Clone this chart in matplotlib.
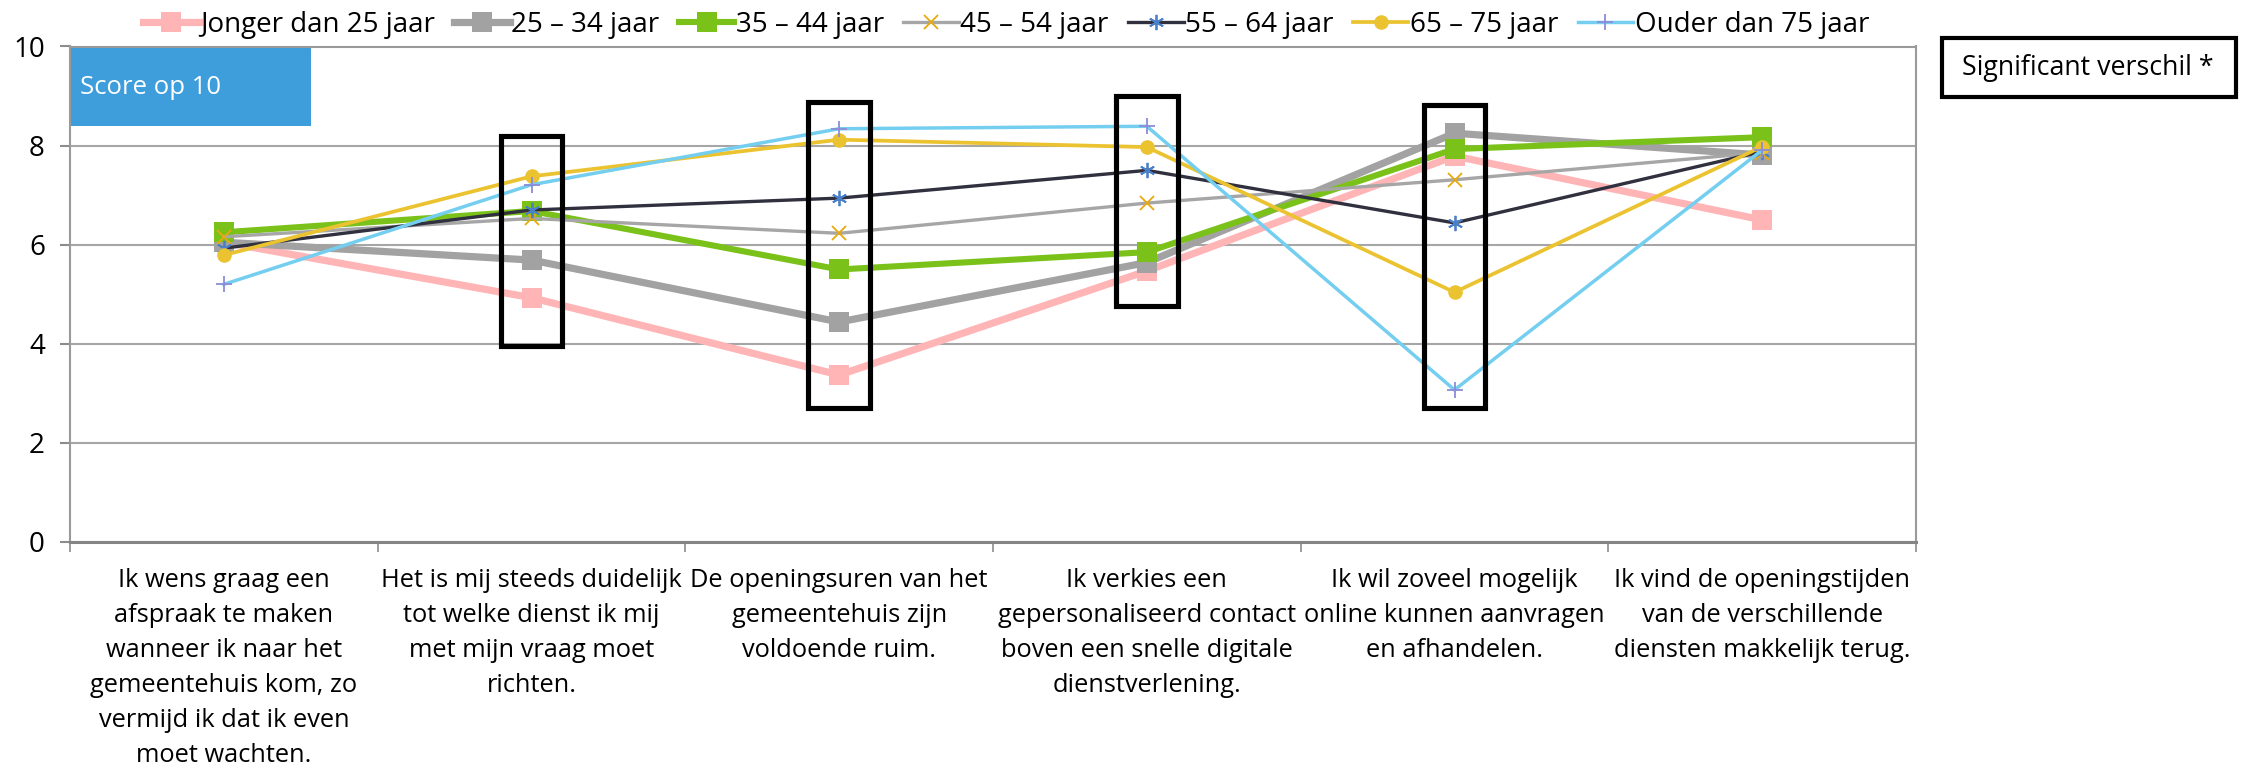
import matplotlib
matplotlib.use("Agg")
import matplotlib.pyplot as plt
from matplotlib.patches import Rectangle

plt.rcParams['font.family'] = ['Open Sans', 'DejaVu Sans']

categories = [
    "Ik wens graag een\nafspraak te maken\nwanneer ik naar het\ngemeentehuis kom, zo\nvermijd ik dat ik even\nmoet wachten.",
    "Het is mij steeds duidelijk\ntot welke dienst ik mij\nmet mijn vraag moet\nrichten.",
    "De openingsuren van het\ngemeentehuis zijn\nvoldoende ruim.",
    "Ik verkies een\ngepersonaliseerd contact\nboven een snelle digitale\ndienstverlening.",
    "Ik wil zoveel mogelijk\nonline kunnen aanvragen\nen afhandelen.",
    "Ik vind de openingstijden\nvan de verschillende\ndiensten makkelijk terug.",
]

series_names = [
    "Jonger dan 25 jaar",
    "25 – 34 jaar",
    "35 – 44 jaar",
    "45 – 54 jaar",
    "55 – 64 jaar",
    "65 – 75 jaar",
    "Ouder dan 75 jaar",
]

jonger_25 = [6.05, 4.93, 3.37, 5.47, 7.79, 6.50]
age_25_34 = [6.05, 5.69, 4.44, 5.64, 8.25, 7.81]
age_35_44 = [6.25, 6.68, 5.50, 5.85, 7.93, 8.17]
age_45_54 = [6.16, 6.53, 6.23, 6.84, 7.31, 7.86]
age_55_64 = [5.93, 6.70, 6.94, 7.50, 6.44, 7.88]
age_65_75 = [5.79, 7.38, 8.12, 7.97, 5.04, 7.98]
ouder_75 = [5.20, 7.21, 8.34, 8.39, 3.07, 7.91]

# categories marked as significantly different: (index, lower, upper)
significant = [(1, 3.96, 8.19), (2, 2.70, 8.87), (3, 4.77, 9.01), (4, 2.70, 8.82)]

styles = [
    dict(color="#FFB4B6", lw=5.2, marker="s", ms=14, mfc="#FFB4B6", mec="#FFB4B6", mew=0),
    dict(color="#A2A2A2", lw=5.2, marker="s", ms=14, mfc="#A2A2A2", mec="#A2A2A2", mew=0),
    dict(color="#7AC21A", lw=4.4, marker="s", ms=14, mfc="#7AC21A", mec="#7AC21A", mew=0),
    dict(color="#A6A6A6", lw=2.4, marker="x", ms=10, mfc="none", mec="#E8A90E", mew=1.3),
    dict(color="#30303F", lw=2.4, marker=(6, 2, 0), ms=11, mfc="none", mec="#4A80C8", mew=1.3),
    dict(color="#EBC330", lw=2.7, marker="o", ms=10.5, mfc="#EBC330", mec="#EBC330", mew=0),
    dict(color="#74CEF0", lw=2.5, marker="+", ms=12, mfc="none", mec="#8C8CD8", mew=1.3),
]

data = [jonger_25, age_25_34, age_35_44, age_45_54, age_55_64, age_65_75, ouder_75]

W, H = 2243, 769
fig = plt.figure(figsize=(W / 100, H / 100), dpi=100)
ax = fig.add_axes([70 / W, (H - 542) / H, (1916 - 70) / W, (542 - 46.5) / H])

x = list(range(len(categories)))
handles = []
for name, vals, st in zip(series_names, data, styles):
    line, = ax.plot(x, vals, label=name, solid_joinstyle="miter", zorder=3, **st)
    handles.append(line)

for idx, lo, hi in significant:
    ax.add_patch(Rectangle((idx - 0.1, lo), 0.2, hi - lo, fill=False,
                           edgecolor="black", lw=3.7, zorder=5))

ax.set_xlim(-0.5, len(categories) - 0.5)
ax.set_ylim(0, 10)
ax.set_yticks([0, 2, 4, 6, 8, 10])
ax.yaxis.grid(True, color="#A6A6A6", lw=1.5, zorder=0)
ax.set_axisbelow(True)

ax.set_xticks(x)
ax.set_xticklabels(categories, fontsize=18.3, linespacing=1.52, va="top")
ax.set_xticks([i - 0.5 for i in range(len(categories) + 1)], minor=True)
ax.tick_params(axis="x", which="major", length=0, pad=19)
ax.tick_params(axis="x", which="minor", length=7, width=1.2, color="#8C8C8C", direction="out")
ax.tick_params(axis="y", length=7, width=1.5, color="#8C8C8C", pad=11, labelsize=20)

for side in ["left", "top", "right"]:
    ax.spines[side].set_color("#9A9A9A")
    ax.spines[side].set_linewidth(1.5)
ax.spines["bottom"].set_color("#858585")
ax.spines["bottom"].set_linewidth(2.2)

# "Score op 10" label box
fig.patches.append(Rectangle((71 / W, (H - 126) / H), (311 - 71) / W, (126 - 48) / H,
                             transform=fig.transFigure, facecolor="#3E9DDB",
                             edgecolor="none", zorder=6))
fig.text(80 / W, (H - 87) / H, "Score op 10", color="white", fontsize=18.5,
         va="center", ha="left", zorder=7)

# significance legend box
fig.patches.append(Rectangle((1942 / W, (H - 97) / H), (2236 - 1942) / W, (97 - 38) / H,
                             transform=fig.transFigure, facecolor="white",
                             edgecolor="black", lw=3.0, zorder=6))
fig.text(1962 / W, (H - 68) / H, "Significant verschil *", color="black", fontsize=19.3,
         va="center", ha="left", zorder=7)

fig.legend(handles=handles, loc="center", bbox_to_anchor=(1006 / W, (H - 25) / H),
           ncol=7, frameon=False, fontsize=20, numpoints=1, handlelength=2.0,
           handletextpad=0.05, columnspacing=0.7, borderpad=0, borderaxespad=0)

fig.savefig("out.png", dpi=100, facecolor="white")
